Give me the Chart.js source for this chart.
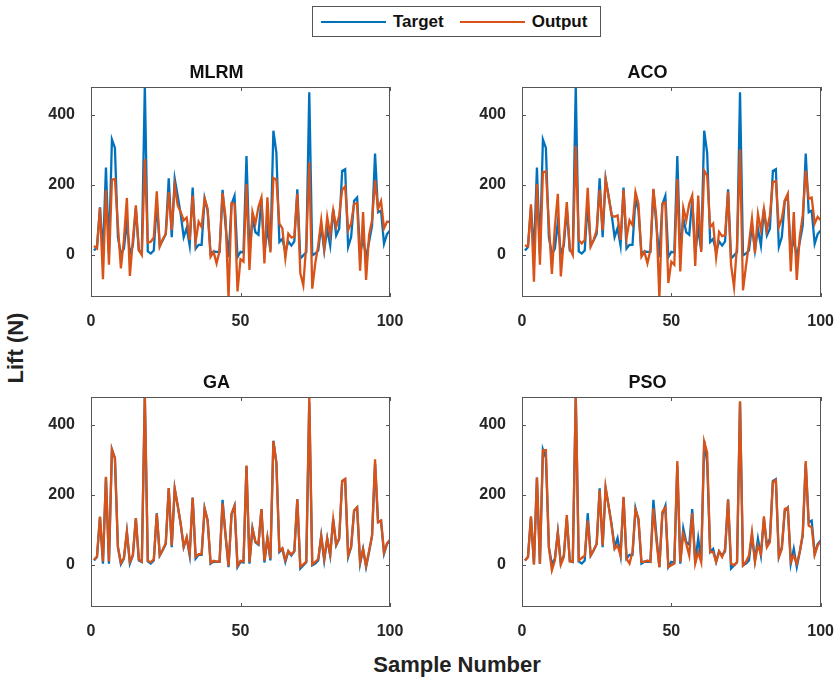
<!DOCTYPE html>
<html>
<head>
<meta charset="utf-8">
<script src="https://cdn.jsdelivr.net/npm/chart.js@4.4.0/dist/chart.umd.min.js"></script>
<style>
  body { margin: 0; background: #fff; }
  #wrap { position: relative; width: 840px; height: 683px; overflow: hidden; font-family: "Liberation Sans", Arial, sans-serif; }
  canvas { position: absolute; }
  #legend { position: absolute; left: 312px; top: 6px; width: 287px; height: 29px; border: 1px solid #555;
            display: flex; align-items: center; font-weight: bold; font-size: 17px; color: #111; }
  #legend .ln { display: inline-block; width: 65px; height: 2px; margin: 0 7px 0 8px; }
  #ylab { position: absolute; left: 16px; top: 348px; transform: translate(-50%, -50%) rotate(-90deg);
          font-weight: bold; font-size: 22px; color: #222; white-space: nowrap; }
  #xlab { position: absolute; left: 457px; top: 665px; transform: translate(-50%, -50%);
          font-weight: bold; font-size: 22px; color: #222; white-space: nowrap; }
</style>
</head>
<body>
<div id="wrap">
  <div id="legend">
    <span class="ln" style="background:#0072BD"></span><span>Target</span>
    <span class="ln" style="background:#D95319;margin-left:16px"></span><span>Output</span>
  </div>
  <canvas id="mlrm" width="369" height="274" style="left:43px;top:55px"></canvas>
  <canvas id="aco" width="367" height="274" style="left:474px;top:55px"></canvas>
  <canvas id="ga" width="369" height="274" style="left:43px;top:365px"></canvas>
  <canvas id="pso" width="367" height="274" style="left:474px;top:365px"></canvas>
  <div id="ylab">Lift (N)</div>
  <div id="xlab">Sample Number</div>
</div>
<script>
const sampleNo = Array.from({ length: 100 }, (_, i) => i + 1);
const xTicks = [0, 50, 100];
const yTicks = [0, 200, 400];

const target = [13, 23, 136, 4, 250, 4, 330, 306, 51, 2,
  18, 94, 4, 27, 133, 13, 9, 485, 10, 4,
  13, 148, 27, 42, 60, 219, 51, 218, 169, 117,
  51, 77, 27, 193, 18, 29, 29, 162, 127, 4,
  10, 9, 9, 186, 84, -6, 145, 169, -6, 9,
  7, 283, 4, 105, 65, 58, 160, 7, 77, 13,
  355, 292, 37, 46, 9, 39, 27, 39, 188, -10,
  -1, 8, 465, -1, 4, 13, 84, 13, 75, 27,
  131, 56, 75, 240, 245, 23, 51, 155, 164, 4,
  46, -6, 37, 84, 290, 122, 127, 32, 60, 70];

const mlrmOut = [26, 19, 135, -69, 186, -28, 215, 217, 85, -38,
  43, 163, -60, 43, 142, 14, 0, 274, 35, 38,
  50, 182, 24, 45, 60, 180, 71, 198, 142, 123,
  99, 107, 43, 170, 38, 95, 80, 161, 132, -5,
  9, -24, 12, 177, 109, -125, 148, 146, -104, -12,
  -19, 203, -43, 123, 90, 137, 164, -24, 165, 7,
  220, 215, 90, 76, -9, 61, 50, 52, 175, -52,
  -87, 30, 265, -96, -24, 28, 99, 19, 109, 57,
  128, 80, 113, 186, 196, 71, 90, 146, 148, -45,
  123, -71, 57, 99, 213, 132, 154, 76, 95, 95];

const acoOut = [28, 24, 145, -76, 203, -28, 236, 239, 90, -54,
  80, 175, -61, 43, 151, 19, 0, 312, 43, 33,
  43, 192, 24, 43, 71, 186, 71, 217, 165, 113,
  109, 113, 43, 186, 47, 99, 85, 180, 146, -5,
  9, -24, 14, 189, 104, -125, 146, 151, -80, -19,
  -28, 217, -47, 135, 99, 146, 170, -31, 170, 9,
  241, 227, 80, 90, -7, 66, 54, 57, 181, -28,
  -92, 30, 302, -101, -31, 33, 104, 5, 118, 71,
  132, 71, 113, 208, 211, 80, 104, 156, 175, -47,
  123, -71, 52, 113, 241, 161, 164, 90, 109, 99];

const gaOut = [15, 24, 138, 10, 252, 10, 330, 304, 52, 6,
  20, 95, 9, 28, 134, 16, 10, 485, 12, 8,
  16, 146, 28, 44, 62, 220, 56, 218, 170, 118,
  52, 80, 33, 192, 24, 31, 31, 161, 128, 6,
  12, 10, 10, 176, 85, -3, 146, 169, -2, 12,
  10, 284, 8, 104, 66, 60, 160, 12, 78, 18,
  354, 292, 40, 48, 14, 40, 30, 40, 188, -5,
  2, 10, 480, 2, 9, 17, 82, 18, 76, 30,
  130, 58, 76, 240, 246, 28, 52, 156, 165, 8,
  45, -2, 40, 84, 302, 122, 127, 36, 62, 72];

const psoOut = [13, 23, 139, 1, 250, 4, 328, 328, 51, -15,
  13, 92, 1, 23, 143, 10, 10, 485, 13, 20,
  27, 127, 27, 42, 60, 214, 56, 223, 169, 112,
  46, 56, 27, 195, 18, 4, 37, 158, 133, 9,
  9, 13, 9, 162, 70, -6, 152, 164, -6, -1,
  4, 297, 9, 89, 60, 27, 148, 4, 37, 8,
  353, 322, 37, 37, 9, 39, 23, 46, 186, 4,
  -1, 8, 468, -1, 9, 27, 94, 9, 56, 32,
  139, 51, 65, 237, 243, 23, 46, 160, 164, 9,
  27, 4, 37, 89, 297, 112, 108, 29, 56, 67];

const fontFamily = '"Liberation Sans", Arial, sans-serif';

// MATLAB style axes: box all round, ticks pointing inwards
const matlabBox = {
  id: 'matlabBox',
  afterDatasetsDraw(chart) {
    const { ctx, chartArea: a, scales } = chart;
    ctx.save();
    ctx.strokeStyle = '#555';
    ctx.lineWidth = 1;
    ctx.strokeRect(Math.round(a.left) + 0.5, Math.round(a.top) + 0.5, Math.round(a.width) - 1, Math.round(a.height) - 1);
    ctx.beginPath();
    xTicks.forEach(v => {
      const px = Math.round(scales.x.getPixelForValue(v)) + 0.5;
      ctx.moveTo(px, a.bottom); ctx.lineTo(px, a.bottom - 4);
      ctx.moveTo(px, a.top); ctx.lineTo(px, a.top + 4);
    });
    yTicks.forEach(v => {
      const py = Math.round(scales.y.getPixelForValue(v)) + 0.5;
      ctx.moveTo(a.left, py); ctx.lineTo(a.left + 4, py);
      ctx.moveTo(a.right, py); ctx.lineTo(a.right - 4, py);
    });
    ctx.stroke();
    ctx.restore();
  }
};

function panel(id, title, output, rightPad) {
  return new Chart(document.getElementById(id), {
    type: 'line',
    data: {
      labels: sampleNo,
      datasets: [
        {
          label: 'Target',
          data: target.map((v, i) => ({ x: sampleNo[i], y: v })),
          borderColor: '#0072BD',
          borderWidth: 2.3,
          pointRadius: 0,
          order: 1
        }, {
          label: 'Output',
          data: output.map((v, i) => ({ x: sampleNo[i], y: v })),
          borderColor: '#D95319',
          borderWidth: 2.3,
          pointRadius: 0,
          order: 0
        }
      ]
    },
    options: {
      responsive: false,
      animation: false,
      devicePixelRatio: 1,
      layout: { padding: { left: 0, right: rightPad, top: 0, bottom: 0 } },
      plugins: {
        legend: { display: false },
        tooltip: { enabled: false },
        title: {
          display: true,
          text: title,
          color: '#111',
          font: { size: 18, weight: 'bold', family: fontFamily, lineHeight: 1.2 },
          padding: { top: 7, bottom: 3.4 }
        }
      },
      scales: {
        x: {
          type: 'linear',
          min: 0,
          max: 100,
          afterBuildTicks: s => { s.ticks = xTicks.map(v => ({ value: v })); },
          afterFit: s => { s.height = 32; },
          grid: { display: false },
          border: { display: false },
          ticks: { color: '#262626', padding: 7, maxRotation: 0, font: { size: 16, weight: 'bold', family: fontFamily } }
        },
        y: {
          min: -120,
          max: 480,
          afterBuildTicks: s => { s.ticks = yTicks.map(v => ({ value: v })); },
          afterFit: s => { s.width = 48; },
          grid: { display: false },
          border: { display: false },
          ticks: { color: '#262626', padding: 8, font: { size: 16, weight: 'bold', family: fontFamily } }
        }
      }
    },
    plugins: [matlabBox]
  });
}

panel('mlrm', 'MLRM', mlrmOut, 22);
panel('aco', 'ACO', acoOut, 20);
panel('ga', 'GA', gaOut, 22);
panel('pso', 'PSO', psoOut, 20);
</script>
</body>
</html>
